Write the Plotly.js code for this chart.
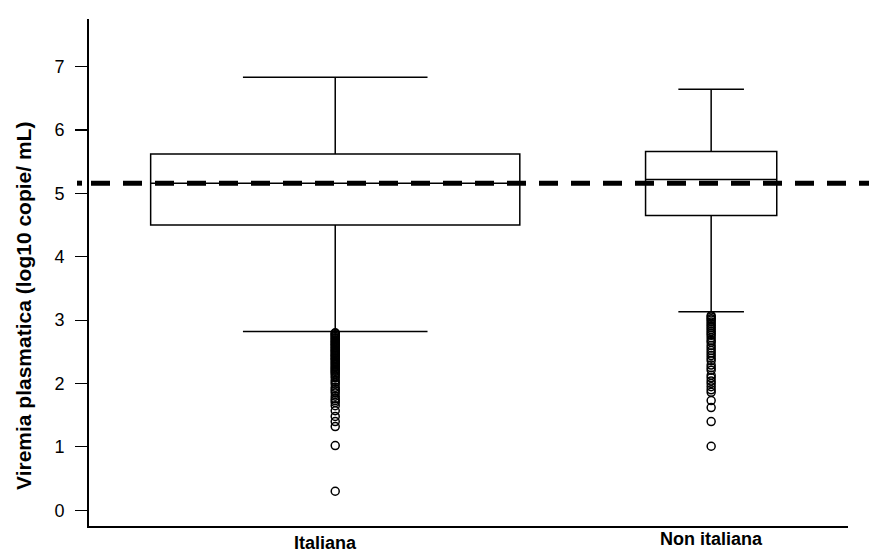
<!DOCTYPE html>
<html>
<head>
<meta charset="utf-8">
<script src="https://cdn.plot.ly/plotly-3.0.1.min.js"></script>
<style>html,body{margin:0;padding:0;background:#fff;}#chart{width:869px;height:559px;}</style>
</head>
<body>
<div id="chart"></div>
<script>
const categories = ['Italiana', 'Non italiana'];
const q1 = [4.50, 4.65];
const medians = [5.16, 5.22];
const q3 = [5.62, 5.66];
const lowerWhisker = [2.82, 3.13];
const upperWhisker = [6.83, 6.64];
const boxWidths = [0.982, 0.349];
const outliersItaliana = [7.77,
  2.80, 2.79, 2.77, 2.76, 2.74, 2.72, 2.71, 2.69, 2.67, 2.66, 2.64, 2.62, 2.61, 2.59, 2.57, 2.56,
  2.54, 2.52, 2.51, 2.49, 2.47, 2.45, 2.44, 2.42, 2.40, 2.39, 2.37, 2.35, 2.33, 2.31, 2.29, 2.27,
  2.25, 2.23, 2.21, 2.19, 2.17, 2.15, 2.12, 2.09, 2.05, 2.02, 1.99, 1.94, 1.91, 1.88, 1.85, 1.80,
  1.76, 1.73, 1.70, 1.65, 1.57, 1.48, 1.40, 1.32, 1.02, 0.30];
const outliersNonItaliana = [3.07, 3.05, 3.02, 3.00, 2.97, 2.94, 2.91, 2.88, 2.85, 2.82, 2.79, 2.76,
  2.72, 2.68, 2.65, 2.60, 2.56, 2.52, 2.48, 2.44, 2.40, 2.36, 2.29, 2.25, 2.21, 2.13, 2.09, 2.04,
  2.00, 1.95, 1.90, 1.86, 1.73, 1.62, 1.40, 1.01];
const referenceLine = 5.16;
const yTicks = [0, 1, 2, 3, 4, 5, 6, 7];
const yTitle = 'Viremia plasmatica (log10 copie/ mL)';

const FONT = 'Arial, "Liberation Sans", sans-serif';
const traces = [];
categories.forEach((c, i) => {
  traces.push({
    type: 'box', x: [c], q1: [q1[i]], median: [medians[i]], q3: [q3[i]],
    lowerfence: [lowerWhisker[i]], upperfence: [upperWhisker[i]],
    width: boxWidths[i], whiskerwidth: 0.5, boxpoints: false,
    fillcolor: 'white', line: {color: 'black', width: 1.5},
    hoverinfo: 'skip', showlegend: false
  });
});
[outliersItaliana, outliersNonItaliana].forEach((vals, i) => {
  traces.push({
    type: 'scatter', mode: 'markers', x: vals.map(() => categories[i]), y: vals,
    marker: {symbol: 'circle-open', size: 8, color: 'black', line: {width: 1.5, color: 'black'}},
    cliponaxis: false, hoverinfo: 'skip', showlegend: false
  });
});

const annotations = categories.map((c, i) => ({
  xref: 'x', yref: 'paper', x: c, y: 0, yanchor: 'middle', xanchor: 'center',
  xshift: i === 0 ? -10 : 0, yshift: i === 0 ? -17 : -13,
  text: c, showarrow: false,
  font: {family: FONT, size: 18, color: 'black', weight: 'bold'}
}));
annotations.push({
  xref: 'paper', yref: 'paper', x: (23 - 89) / 759, y: (526 - 306) / 507,
  xanchor: 'center', yanchor: 'middle', textangle: -90, showarrow: false,
  text: yTitle, font: {family: FONT, size: 21, color: 'black', weight: 'bold'}
});

const layout = {
  width: 869, height: 559,
  margin: {l: 89, r: 21, t: 19, b: 33},
  paper_bgcolor: 'white', plot_bgcolor: 'white',
  font: {family: FONT, color: 'black'},
  showlegend: false,
  xaxis: {
    type: 'category', categoryorder: 'array', categoryarray: categories,
    range: [-0.655, 1.364], showticklabels: false, ticks: '',
    showline: true, linecolor: 'black', linewidth: 1.5, showgrid: false, zeroline: false, fixedrange: true
  },
  yaxis: {
    range: [-0.248, 7.75], tickvals: yTicks, ticktext: yTicks.map(String),
    ticks: 'outside', ticklen: 12, tickwidth: 1.2, tickcolor: 'black',
    ticklabelstandoff: 7,
    tickfont: {family: FONT, size: 18, color: 'black'},
    showline: true, linecolor: 'black', linewidth: 2, showgrid: false, zeroline: false
  },
  shapes: [
    {type: 'line', xref: 'paper', yref: 'y', x0: (91 - 89) / 759, x1: (869 - 89) / 759,
      y0: referenceLine, y1: referenceLine, line: {color: 'black', width: 5, dash: '19px,13px'}, layer: 'above'},
    {type: 'line', xref: 'paper', yref: 'y', x0: (77 - 89) / 759, x1: (82 - 89) / 759,
      y0: referenceLine, y1: referenceLine, line: {color: 'black', width: 5}, layer: 'above'}
  ],
  annotations: annotations
};

Plotly.newPlot('chart', traces, layout, {staticPlot: true, displayModeBar: false});
</script>
</body>
</html>
